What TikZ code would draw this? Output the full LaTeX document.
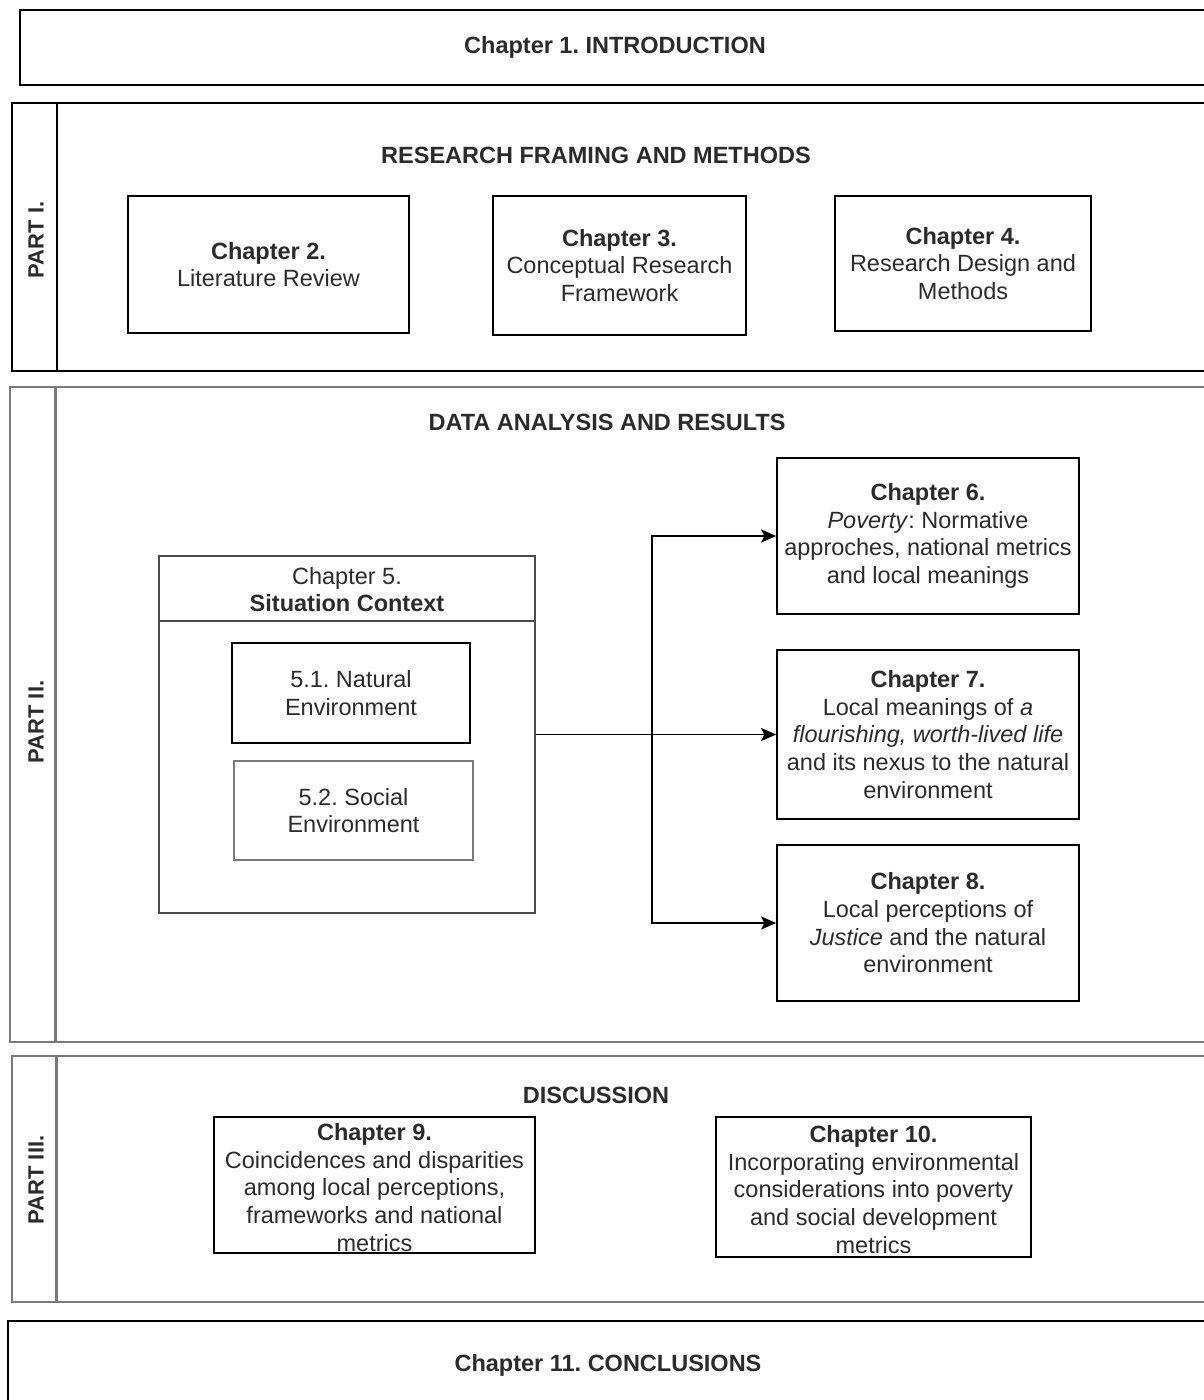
\documentclass[tikz,border=0pt]{standalone}
\usepackage{fontspec}
\setmainfont{Liberation Sans}
\usepackage{tikz}
\usetikzlibrary{arrows.meta,positioning}
\frenchspacing
\definecolor{ink}{HTML}{2B2B2B}
\definecolor{frm}{HTML}{7A7A7A}
\tikzset{
  bx/.style={draw,line width=1.6pt,rectangle,inner sep=0pt},
  gbx/.style={draw=frm,line width=2.6pt,rectangle,inner sep=0pt},
  txt/.style={align=center,text=ink,inner sep=0pt,font=\fontsize{23.5}{27.7}\selectfont},
  hd/.style={text=ink,inner sep=0pt,font=\fontsize{23.5}{27.7}\selectfont\bfseries},
  part/.style={rotate=90,text=ink,inner sep=0pt,font=\fontsize{22}{26}\selectfont\bfseries},
  arr/.style={line width=1.6pt,-{Stealth[length=15pt,width=13pt,inset=3pt]}},
}

\begin{document}
\begin{tikzpicture}[x=1pt,y=-1pt]
  \useasboundingbox (0,0) rectangle (1203,1400);
  % intro
  \node[bx,minimum width=1195pt,minimum height=75pt] (intro) at (617.5,47.5){};
  \node[hd] (introt) at (615,47){Chapter 1. INTRODUCTION};
  % part I
  \node[bx,minimum width=1203pt,minimum height=268pt] (p1) at (613.5,237){};
  \draw[line width=1.6pt] ([xshift=46pt]p1.north west)--([xshift=46pt]p1.south west);
  \node[part] (p1l) at (36,240){PART I.};
  \node[hd] (p1t) at (596,155){RESEARCH FRAMING AND METHODS};
  \node[bx,txt,minimum width=281pt,minimum height=137pt] (c2) at (268.5,264.5){\textbf{Chapter 2.}\\Literature Review};
  \node[bx,txt,minimum width=253pt,minimum height=139pt] (c3) at (619.5,265.5){\textbf{Chapter 3.}\\Conceptual Research\\Framework};
  \node[bx,txt,minimum width=256pt,minimum height=135pt] (c4) at (963,263.5){\textbf{Chapter 4.}\\Research Design and\\Methods};
  % part II
  \node[gbx,minimum width=1207pt,minimum height=655pt] (p2) at (613.5,714.5){};
  \draw[frm,line width=2.6pt] ([xshift=47pt]p2.north west)--([xshift=47pt]p2.south west);
  \node[part] (p2l) at (36,722){PART II.};
  \node[hd] (p2t) at (607,422){DATA ANALYSIS AND RESULTS};
  \node[draw=black!70,line width=2pt,minimum width=376pt,minimum height=357pt] (c5) at (347,734.5){};
  \draw[black!70,line width=2pt] ([yshift=-66pt]c5.north west)--([yshift=-66pt]c5.north east);
  \node[txt] (c5t) at (347,589.5){Chapter 5.\\\textbf{Situation Context}};
  \node[bx,txt,minimum width=238pt,minimum height=100pt] (c51) at (351,693){5.1. Natural\\Environment};
  \node[gbx,txt,minimum width=239pt,minimum height=99pt] (c52) at (353.5,810.5){5.2. Social\\Environment};
  \node[bx,txt,minimum width=302pt,minimum height=156pt] (c6) at (928,536){\textbf{Chapter 6.}\\\textit{Poverty}: Normative\\approches, national metrics\\and local meanings};
  \node[bx,txt,minimum width=302pt,minimum height=169pt] (c7) at (928,734.5){\textbf{Chapter 7.}\\Local meanings of \textit{a}\\\textit{flourishing, worth-lived life}\\and its nexus to the natural\\environment};
  \node[bx,txt,minimum width=302pt,minimum height=156pt] (c8) at (928,923){\textbf{Chapter 8.}\\Local perceptions of\\\textit{Justice} and the natural\\environment};
  \coordinate (fork) at (652,734.5);
  \draw[arr] (c5.east)--(c7.west);
  \draw[arr] (fork)|-(c6.west);
  \draw[arr] (fork)|-(c8.west);
  % part III
  \node[gbx,minimum width=1203pt,minimum height=246pt] (p3) at (613.5,1179){};
  \draw[frm,line width=2.6pt] ([xshift=46pt]p3.north west)--([xshift=46pt]p3.south west);
  \node[part] (p3l) at (36,1180){PART III.};
  \node[hd] (p3t) at (596,1095){DISCUSSION};
  \node[bx,minimum width=321pt,minimum height=136pt] (c9) at (374.5,1185){};
  \node[txt] (c9t) at (374.5,1187.5){\textbf{Chapter 9.}\\Coincidences and disparities\\among local perceptions,\\frameworks and national\\metrics};
  \node[bx,minimum width=315pt,minimum height=140pt] (c10) at (873.5,1187){};
  \node[txt] (c10t) at (873.5,1189.5){\textbf{Chapter 10.}\\Incorporating environmental\\considerations into poverty\\and social development\\metrics};
  % conclusions
  \node[bx,minimum width=1207pt,minimum height=100pt] (concl) at (611.5,1371){};
  \node[hd] (conclt) at (608,1365){Chapter 11. CONCLUSIONS};
\end{tikzpicture}
\end{document}
